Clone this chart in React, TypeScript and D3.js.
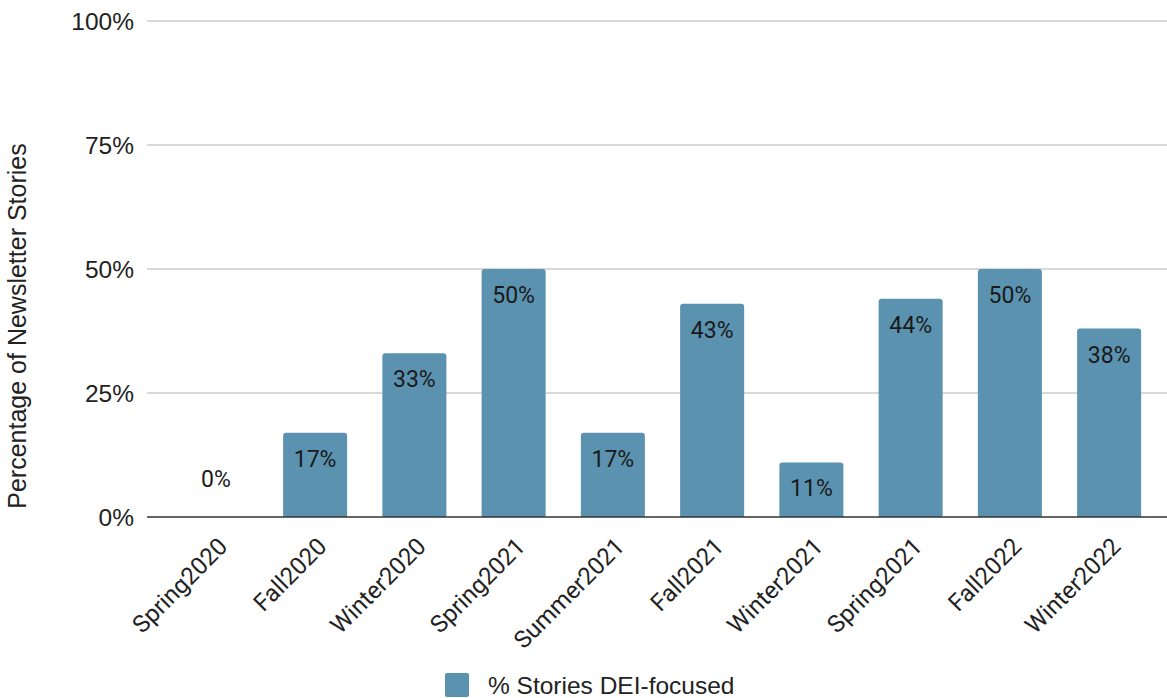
import React from "react";
import * as d3 from "d3";

const categories = ["Spring2020", "Fall2020", "Winter2020", "Spring2021", "Summer2021", "Fall2021", "Winter2021", "Spring2021 ", "Fall2022", "Winter2022"];
const values = [0, 17, 33, 50, 17, 43, 11, 44, 50, 38];
const yTicks = [0, 25, 50, 75, 100];
const seriesName = "% Stories DEI-focused";

const W = 1167;
const H = 698;
const FONT = "'Liberation Sans', Arial, sans-serif";
const RFONT = "Roboto, 'Liberation Sans', sans-serif";
const BAR = "#5a92af";

export default function App() {
  const x = d3.scaleBand<string>().domain(categories).range([166, 1159]).paddingInner(0.355).paddingOuter(0.18);
  const y = d3.scaleLinear().domain([0, 100]).range([517, 21]);
  const bw = x.bandwidth();
  const r = 3;

  const barPath = (x0: number, y0: number, w: number, h: number) => {
    if (h <= 0) return "";
    const rr = Math.min(r, h);
    const p = d3.path();
    p.moveTo(x0, y0 + h);
    p.lineTo(x0, y0 + rr);
    p.arcTo(x0, y0, x0 + rr, y0, rr);
    p.lineTo(x0 + w - rr, y0);
    p.arcTo(x0 + w, y0, x0 + w, y0 + rr, rr);
    p.lineTo(x0 + w, y0 + h);
    p.closePath();
    return p.toString();
  };

  return (
    <svg width={W} height={H} style={{ position: "fixed", left: 0, top: 0, background: "#fff" }} fontFamily={FONT}>
      {yTicks.map((t) => (
        <g key={t}>
          {t !== 0 && <line x1={147} x2={1167} y1={y(t)} y2={y(t)} stroke="#cccccc" strokeWidth={1.5} />}
          <text x={134} y={y(t)} dy="0.35em" textAnchor="end" fontSize={24.5} fill="#222">{t}%</text>
        </g>
      ))}
      {categories.map((c, i) => {
        const v = values[i];
        const x0 = x(c)!;
        const top = y(v);
        const h = y(0) - top;
        return (
          <g key={c}>
            <path d={barPath(x0, top, bw, h)} fill={BAR} />
            <text x={x0 + bw / 2} y={v === 0 ? y(0) - 30 : top + 34} textAnchor="middle" fontSize={23} fontFamily={RFONT} fill="#1a1a1a">{v}%</text>
            <text transform={`translate(${x0 + bw / 2 + 13},${548}) rotate(-45)`} textAnchor="end" fontSize={24} fontFamily={RFONT} fill="#222">{c.trim()}</text>
          </g>
        );
      })}
      <line x1={147} x2={1167} y1={y(0)} y2={y(0)} stroke="#333" strokeWidth={1.5} />
      <text transform={`translate(26,326) rotate(-90)`} textAnchor="middle" fontSize={25} fill="#222">Percentage of Newsletter Stories</text>
      <rect x={445} y={673} width={24} height={24} rx={2} fill={BAR} />
      <text x={488} y={694} fontSize={24.5} fill="#222">{seriesName}</text>
    </svg>
  );
}
